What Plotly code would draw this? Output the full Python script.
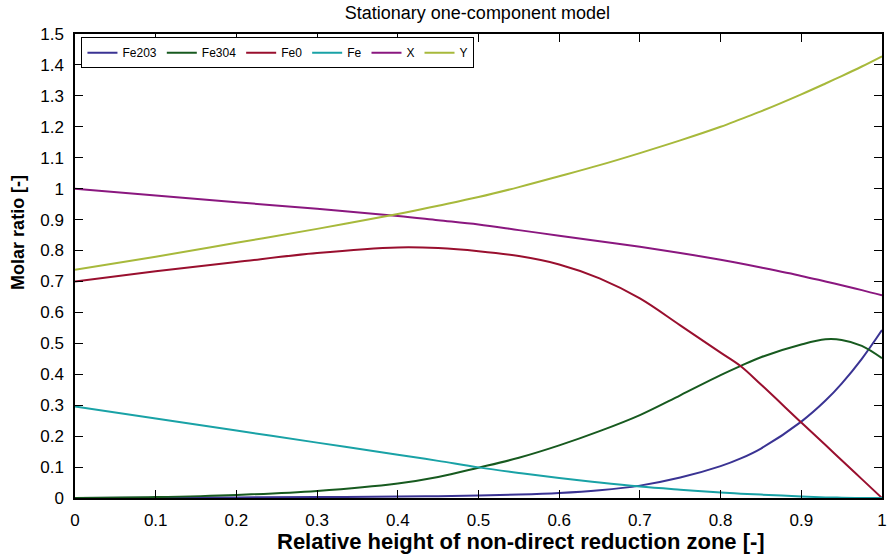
import plotly.graph_objects as go

# Relative height grid (shared by all series)
height = [0.0, 0.1, 0.2, 0.3, 0.4, 0.45, 0.5, 0.55, 0.6, 0.65, 0.7, 0.75, 0.8, 0.825, 0.85, 0.9, 0.93, 0.95, 0.975, 1.0]

fe2o3 = [0.0, 0.001, 0.002, 0.003, 0.005, 0.006, 0.008, 0.011, 0.016, 0.025, 0.04, 0.066, 0.103, 0.128, 0.16, 0.247, 0.315, 0.37, 0.45, 0.543]
fe3o4 = [0.0, 0.003, 0.01, 0.023, 0.047, 0.068, 0.098, 0.13, 0.17, 0.216, 0.268, 0.332, 0.397, 0.427, 0.455, 0.496, 0.513, 0.511, 0.492, 0.452]
feo = [0.70, 0.733, 0.763, 0.792, 0.81, 0.808, 0.798, 0.782, 0.755, 0.71, 0.645, 0.558, 0.47, 0.426, 0.367, 0.244, 0.171, 0.122, 0.061, 0.0]
fe = [0.296, 0.257, 0.218, 0.179, 0.14, 0.12, 0.099, 0.081, 0.065, 0.05, 0.037, 0.027, 0.018, 0.014, 0.011, 0.005, 0.002, 0.001, 0.0, 0.0]
x_ratio = [1.0, 0.978, 0.956, 0.935, 0.912, 0.898, 0.884, 0.866, 0.848, 0.83, 0.812, 0.792, 0.77, 0.758, 0.745, 0.718, 0.70, 0.688, 0.672, 0.655]
y_ratio = [0.738, 0.78, 0.825, 0.87, 0.918, 0.945, 0.973, 1.005, 1.04, 1.076, 1.115, 1.156, 1.20, 1.225, 1.25, 1.305, 1.34, 1.364, 1.395, 1.428]

series = [
    ("Fe203", fe2o3, "#3a3393"),
    ("Fe304", fe3o4, "#175a1f"),
    ("Fe0", feo, "#990f2e"),
    ("Fe", fe, "#19a2a6"),
    ("X", x_ratio, "#8a177f"),
    ("Y", y_ratio, "#a7b93b"),
]

x_ticks = [round(i * 0.1, 1) for i in range(11)]
y_ticks = [round(i * 0.1, 1) for i in range(16)]

fig = go.Figure()
for name, vals, color in series:
    fig.add_trace(go.Scatter(
        x=height, y=vals, name=name, mode="lines",
        line=dict(color=color, width=2, shape="spline", smoothing=1.0),
    ))

font_family = "Liberation Sans, Arial, sans-serif"

axis_common = dict(
    showline=True, linecolor="black", linewidth=1.5, mirror="allticks",
    ticks="inside", ticklen=8, tickwidth=1.2, tickcolor="black",
    showgrid=False, zeroline=False, automargin=False,
    ticklabeloverflow="allow",
    tickfont=dict(family=font_family, size=17, color="black"),
)

fig.update_layout(
    width=889, height=556,
    margin=dict(l=75, r=7, t=34, b=58),
    paper_bgcolor="white", plot_bgcolor="white",
    font=dict(family=font_family, color="black"),
    title=dict(text="Stationary one-component model", x=0.537, xanchor="center",
               y=0.978, yanchor="middle", font=dict(size=18, color="black")),
    xaxis=dict(range=[0, 1], tickvals=x_ticks, ticktext=[f"{v:g}" for v in x_ticks],
               ticklabelstandoff=6, **axis_common),
    yaxis=dict(range=[0, 1.5], tickvals=y_ticks, ticktext=[f"{v:g}" for v in y_ticks],
               ticklabelstandoff=6, **axis_common),
    legend=dict(orientation="h", x=0.008, y=0.993, xanchor="left", yanchor="top",
                bgcolor="white", bordercolor="black", borderwidth=1,
                font=dict(size=12, color="black"), itemwidth=30,
                tracegroupgap=0),
    showlegend=True,
)

# Axis titles
fig.add_annotation(text="<b>Relative height of non-direct reduction zone [-]</b>",
                   xref="paper", yref="paper", x=0.553, y=-0.094,
                   xanchor="center", yanchor="middle", showarrow=False,
                   font=dict(size=22, color="black"))
fig.add_annotation(text="<b>Molar ratio [-]</b>",
                   xref="paper", yref="paper", x=-0.0715, y=0.572,
                   xanchor="center", yanchor="middle", textangle=-90, showarrow=False,
                   font=dict(size=18, color="black"))

fig.write_html("out.html")
